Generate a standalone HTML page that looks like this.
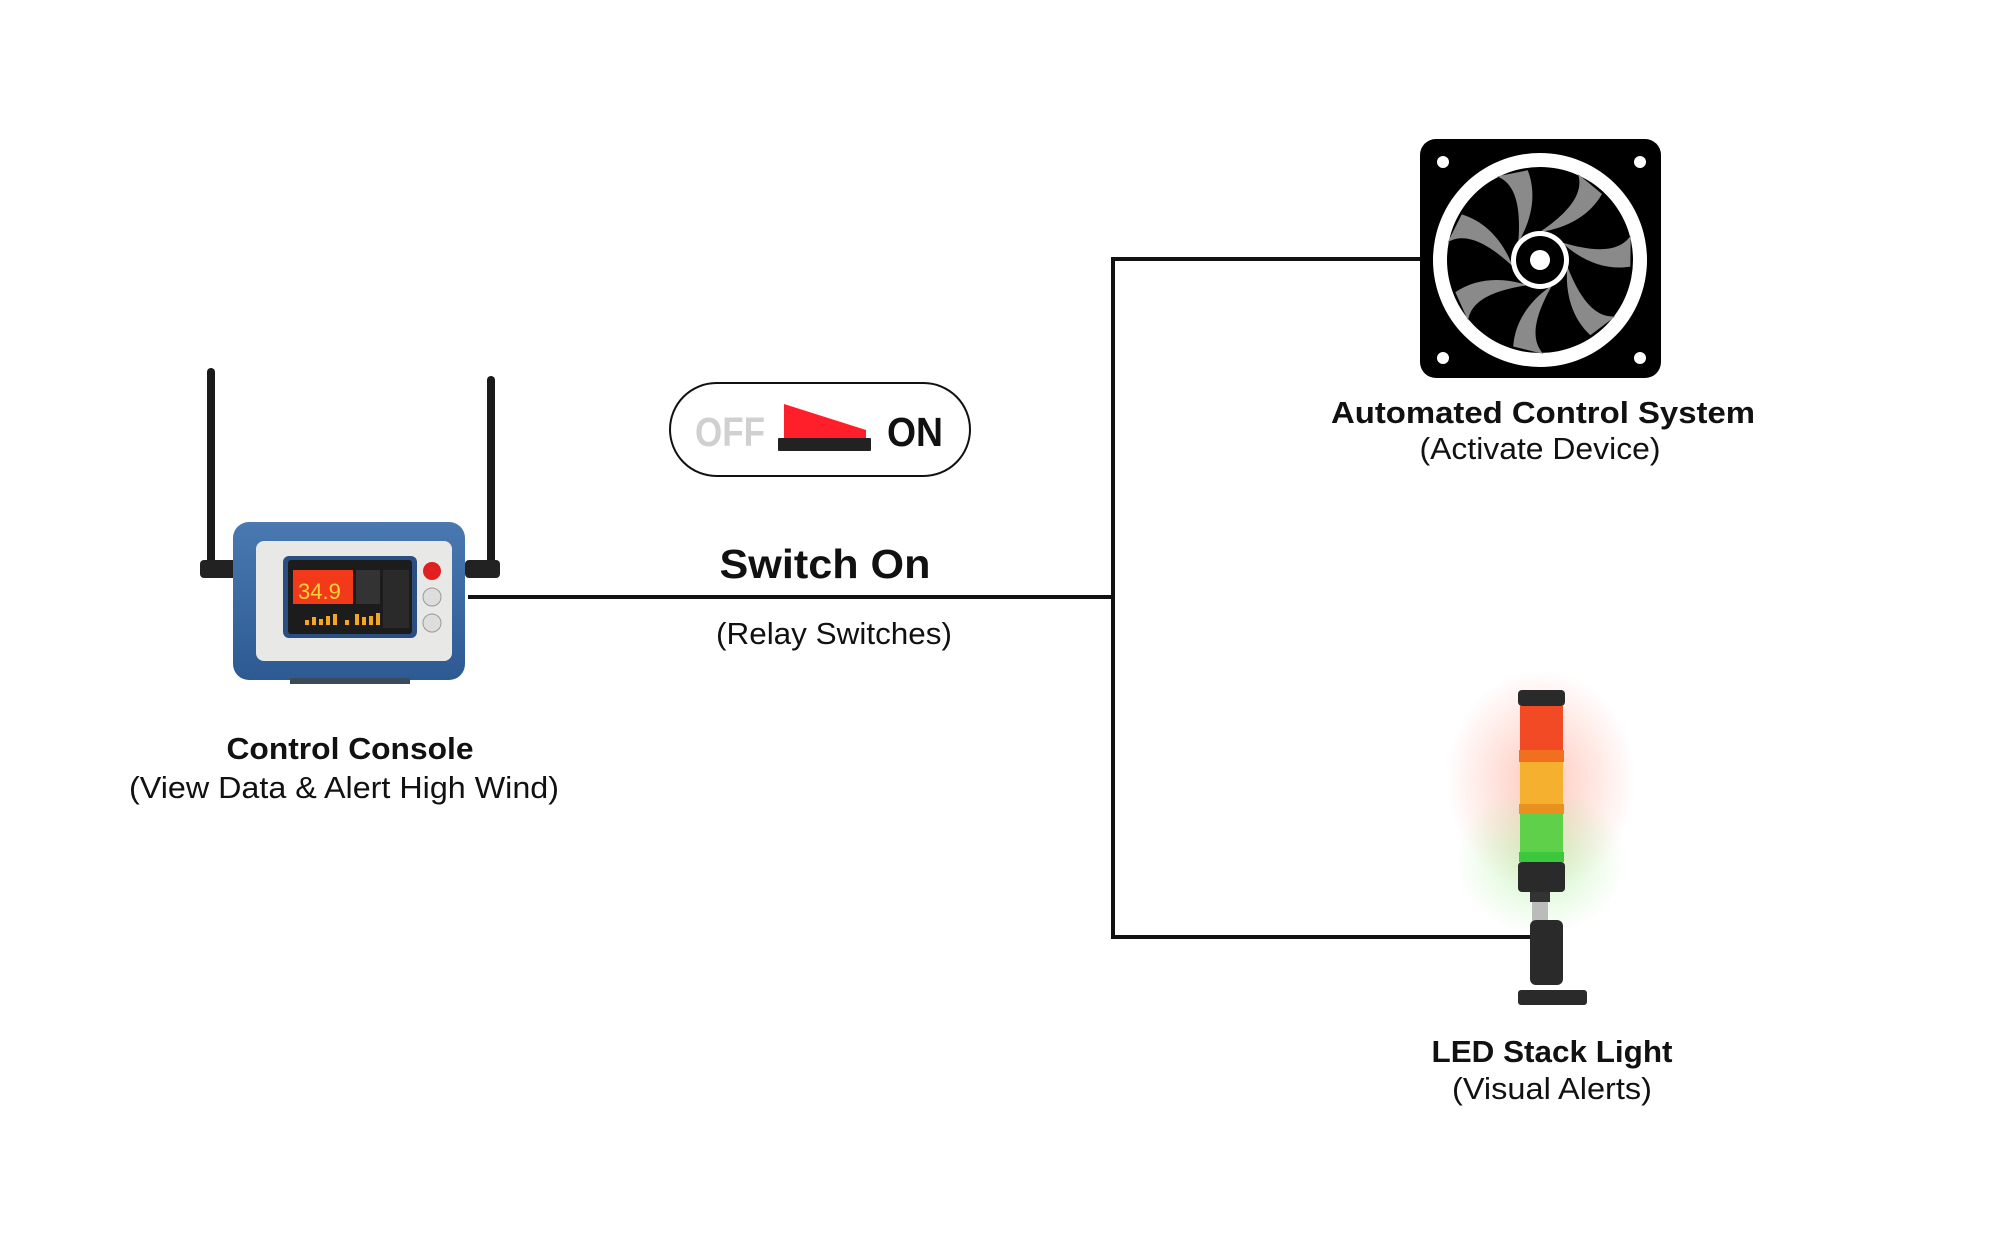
<!DOCTYPE html>
<html><head><meta charset="utf-8"><style>
html,body{margin:0;padding:0;background:#fff;}
svg{display:block;}
text{font-family:"Liberation Sans",sans-serif;fill:#111;}
</style></head><body>
<svg width="1994" height="1250" viewBox="0 0 1994 1250" xmlns="http://www.w3.org/2000/svg">
<defs>
<radialGradient id="glow" cx="50%" cy="50%" r="50%">
<stop offset="0" stop-color="#ff6040" stop-opacity="0.35"/>
<stop offset="1" stop-color="#ff6040" stop-opacity="0"/>
</radialGradient>
<radialGradient id="glowg" cx="50%" cy="50%" r="50%">
<stop offset="0" stop-color="#60e040" stop-opacity="0.3"/>
<stop offset="1" stop-color="#60e040" stop-opacity="0"/>
</radialGradient>
<linearGradient id="blue" x1="0" y1="0" x2="0" y2="1">
<stop offset="0" stop-color="#4a78b0"/><stop offset="1" stop-color="#2d5a92"/>
</linearGradient>
</defs>

<!-- connectors -->
<g stroke="#111" stroke-width="4" fill="none">
<line x1="468" y1="597" x2="1115" y2="597"/>
<polyline points="1430,259 1113,259 1113,937 1538,937"/>
</g>

<!-- console antennas -->
<rect x="207" y="368" width="8" height="210" rx="4" fill="#1a1a1a"/>
<rect x="487" y="376" width="8" height="200" rx="4" fill="#1a1a1a"/>
<rect x="200" y="560" width="40" height="18" rx="4" fill="#222"/>
<rect x="465" y="560" width="35" height="18" rx="4" fill="#222"/>
<!-- console body -->
<rect x="233" y="522" width="232" height="158" rx="16" fill="url(#blue)"/>
<rect x="256" y="541" width="196" height="120" rx="8" fill="#e8e8e6"/>
<rect x="283" y="556" width="134" height="82" rx="6" fill="#2a4e80"/>
<rect x="288" y="560" width="124" height="74" rx="3" fill="#1c1c1c"/>
<rect x="293" y="570" width="60" height="34" fill="#f23a1a"/>
<text x="298" y="599" font-size="22" style="fill:#ffd33a">34.9</text>
<rect x="356" y="570" width="24" height="34" fill="#333"/>
<rect x="383" y="570" width="26" height="58" fill="#2a2a2a"/>
<g fill="#f5a623">
<rect x="305" y="620" width="4" height="5"/><rect x="312" y="617" width="4" height="8"/><rect x="319" y="619" width="4" height="6"/><rect x="326" y="616" width="4" height="9"/><rect x="333" y="614" width="4" height="11"/><rect x="345" y="620" width="4" height="5"/><rect x="355" y="614" width="4" height="11"/><rect x="362" y="617" width="4" height="8"/><rect x="369" y="616" width="4" height="9"/><rect x="376" y="613" width="4" height="12"/>
</g>
<circle cx="432" cy="571" r="9" fill="#e02020"/>
<circle cx="432" cy="597" r="9" fill="#ddd" stroke="#999"/>
<circle cx="432" cy="623" r="9" fill="#ddd" stroke="#999"/>
<rect x="290" y="678" width="120" height="6" fill="#3a4a5a"/>

<!-- switch -->
<rect x="670" y="383" width="300" height="93" rx="46.5" fill="#fff" stroke="#111" stroke-width="2"/>
<text x="695" y="446" font-size="41" font-weight="bold" style="fill:#d0d0d0" textLength="70" lengthAdjust="spacingAndGlyphs">OFF</text>
<polygon points="784,404 866,430 866,440 784,440" fill="#ff1f2a"/>
<rect x="778" y="438" width="93" height="13" rx="1" fill="#222"/>
<text x="887" y="446" font-size="41" font-weight="bold" textLength="56" lengthAdjust="spacingAndGlyphs">ON</text>

<!-- fan -->
<rect x="1420" y="139" width="241" height="239" rx="16" fill="#000"/>
<g fill="#fff">
<circle cx="1443" cy="162" r="6"/><circle cx="1640" cy="162" r="6"/>
<circle cx="1443" cy="358" r="6"/><circle cx="1640" cy="358" r="6"/>
</g>
<circle cx="1540" cy="260" r="107" fill="#fff"/>
<circle cx="1540" cy="260" r="93" fill="#000"/>
<g transform="translate(1540,260)">
<g fill="#8a8a8a">
<path d="M0,-28 C25,-45 45,-65 38,-86 L62,-66 C50,-45 28,-32 0,-28Z"/>
<path d="M0,-28 C25,-45 45,-65 38,-86 L62,-66 C50,-45 28,-32 0,-28Z" transform="rotate(51)"/>
<path d="M0,-28 C25,-45 45,-65 38,-86 L62,-66 C50,-45 28,-32 0,-28Z" transform="rotate(103)"/>
<path d="M0,-28 C25,-45 45,-65 38,-86 L62,-66 C50,-45 28,-32 0,-28Z" transform="rotate(154)"/>
<path d="M0,-28 C25,-45 45,-65 38,-86 L62,-66 C50,-45 28,-32 0,-28Z" transform="rotate(206)"/>
<path d="M0,-28 C25,-45 45,-65 38,-86 L62,-66 C50,-45 28,-32 0,-28Z" transform="rotate(257)"/>
<path d="M0,-28 C25,-45 45,-65 38,-86 L62,-66 C50,-45 28,-32 0,-28Z" transform="rotate(309)"/>
</g>
<circle r="29" fill="#fff"/><circle r="24" fill="#000"/><circle r="10" fill="#fff"/>
</g>

<!-- stack light -->
<ellipse cx="1541" cy="780" rx="95" ry="110" fill="url(#glow)"/>
<ellipse cx="1541" cy="860" rx="85" ry="75" fill="url(#glowg)"/>
<rect x="1518" y="690" width="47" height="16" rx="4" fill="#2a2a2a"/>
<rect x="1520" y="706" width="43" height="48" fill="#f24a25"/>
<rect x="1519" y="750" width="45" height="12" fill="#f07020"/>
<rect x="1520" y="762" width="43" height="42" fill="#f5b030"/>
<rect x="1519" y="804" width="45" height="10" fill="#e89020"/>
<rect x="1520" y="814" width="43" height="42" fill="#5ed04a"/>
<rect x="1519" y="852" width="45" height="10" fill="#3cc83c"/>
<rect x="1518" y="862" width="47" height="30" rx="4" fill="#2a2a2a"/>
<rect x="1530" y="892" width="20" height="10" fill="#333"/>
<rect x="1532" y="902" width="16" height="20" fill="#bbb"/>
<rect x="1530" y="920" width="33" height="65" rx="6" fill="#2a2a2a"/>
<rect x="1518" y="990" width="69" height="15" rx="3" fill="#2a2a2a"/>

<!-- labels -->
<text x="350" y="759" font-size="31" font-weight="bold" text-anchor="middle" textLength="247" lengthAdjust="spacingAndGlyphs">Control Console</text>
<text x="344" y="798" font-size="31" text-anchor="middle" textLength="430" lengthAdjust="spacingAndGlyphs">(View Data &amp; Alert High Wind)</text>
<text x="825" y="578" font-size="41" font-weight="bold" text-anchor="middle" textLength="211" lengthAdjust="spacingAndGlyphs">Switch On</text>
<text x="834" y="644" font-size="31" text-anchor="middle" textLength="236" lengthAdjust="spacingAndGlyphs">(Relay Switches)</text>
<text x="1543" y="423" font-size="31" font-weight="bold" text-anchor="middle" textLength="424" lengthAdjust="spacingAndGlyphs">Automated Control System</text>
<text x="1540" y="459" font-size="31" text-anchor="middle" textLength="241" lengthAdjust="spacingAndGlyphs">(Activate Device)</text>
<text x="1552" y="1062" font-size="31" font-weight="bold" text-anchor="middle" textLength="241" lengthAdjust="spacingAndGlyphs">LED Stack Light</text>
<text x="1552" y="1099" font-size="31" text-anchor="middle" textLength="200" lengthAdjust="spacingAndGlyphs">(Visual Alerts)</text>
</svg>
</body></html>
